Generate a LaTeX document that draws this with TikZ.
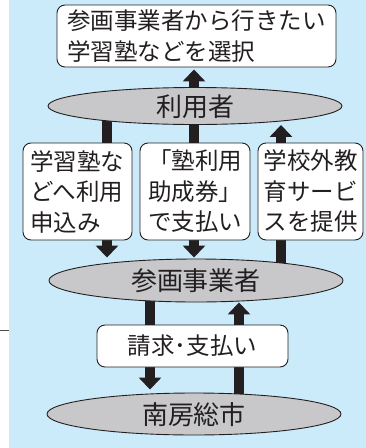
\documentclass[tikz,border=0pt]{standalone}
\usepackage{fontspec}
\setmainfont{Noto Sans CJK JP}
\usetikzlibrary{shapes.geometric}
\usetikzlibrary{arrows.meta}
\usetikzlibrary{backgrounds}
\definecolor{bgblue}{RGB}{204,235,250}
\definecolor{ink}{RGB}{35,31,32}
\definecolor{ovalgray}{RGB}{200,200,202}

\begin{document}
\begin{tikzpicture}[x=1pt, y=-1pt,
  box/.style={draw=ink, line width=0.9pt, fill=white, rounded corners=8pt, align=left, inner sep=0pt, text=ink, font=\fontsize{23.5}{30.5}\selectfont},
  oval/.style={ellipse, draw=ink, line width=0.9pt, fill=ovalgray, inner sep=0pt, minimum width=294pt, text height=20pt, text depth=0pt, text=ink, font=\fontsize{26}{30}\selectfont},
  fat/.style={draw=ink, line width=10pt},
  fatarrow/.style={fat, -{Triangle[width=22pt,length=12pt]}}]
\useasboundingbox (0,0) rectangle (366,448);
% boxes and ovals
\node[box, minimum width=279pt, minimum height=62pt] (select) at (196.5,36) {参画事業者から行きたい\\学習塾などを選択};
\node[oval, minimum height=37pt] (user) at (195,106) {利用者};
\node[box, minimum width=109pt, minimum height=97pt] (apply) at (77.5,191.5) {学習塾な\\どへ利用\\申込み};
\node[box, minimum width=110pt, minimum height=97pt] (pay) at (195,191.5) {「塾利用\\助成券」\\で支払い};
\node[box, minimum width=105pt, minimum height=97pt] (serve) at (310.5,191.5) {学校外教\\育サービ\\スを提供};
\node[oval, minimum height=43pt] (firm) at (196,280.5) {参画事業者};
\node[box, minimum width=191pt, minimum height=42pt] (bill) at (192.5,346) {請求･支払い};
\node[oval, minimum height=42pt] (city) at (194,414) {南房総市};
\coordinate (lane1) at (107,0);
\coordinate (lane2) at (194,0);
\coordinate (lane3) at (281,0);
\coordinate (lane4) at (150,0);
\coordinate (lane5) at (239,0);
\begin{scope}[on background layer]
\fill[bgblue] (9,0) rectangle (366,448);
\draw[ink!80, line width=0.9pt] (0,330) -- (9,330);
% arrows
\draw[fatarrow, shorten >=2pt] (user.center -| lane2) -- (select.south -| lane2);
\draw[fat] (user.center -| lane1) -- (apply.north -| lane1);
\draw[fatarrow, shorten >=1pt] (apply.south -| lane1) -- (firm.north -| lane1);
\draw[fat] (user.center -| lane2) -- (pay.north -| lane2);
\draw[fatarrow, shorten >=1pt] (pay.south -| lane2) -- (firm.north -| lane2);
\draw[fat] (firm.center -| lane3) -- (serve.south -| lane3);
\draw[fatarrow] (serve.north -| lane3) -- (user.south -| lane3);
\draw[fat] (firm.center -| lane4) -- (bill.north -| lane4);
\draw[fatarrow, shorten >=3pt] (bill.south -| lane4) -- (city.north -| lane4);
\draw[fat] (city.center -| lane5) -- (bill.south -| lane5);
\draw[fatarrow] (bill.north -| lane5) -- (firm.south -| lane5);
\end{scope}
\end{tikzpicture}
\end{document}
